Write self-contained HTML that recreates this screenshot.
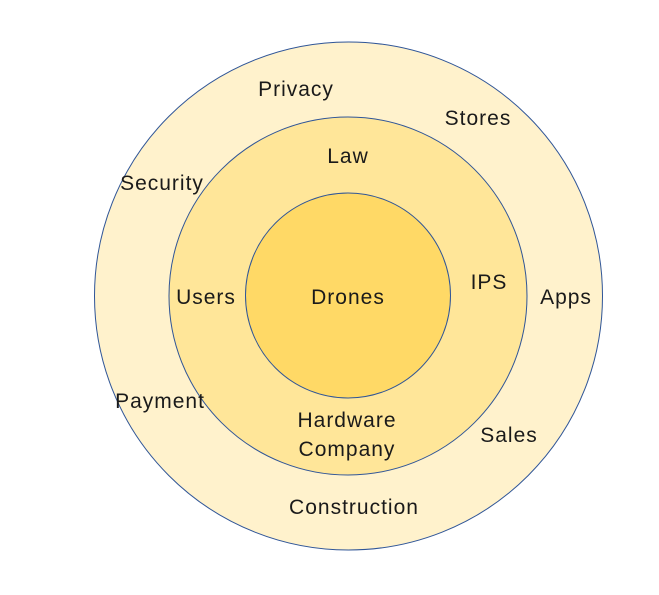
<!DOCTYPE html>
<html><head><meta charset="utf-8"><style>
html,body{margin:0;padding:0;background:#fff;}
svg text{font-family:"Liberation Sans","Noto Sans CJK SC",sans-serif;font-size:21px;letter-spacing:1px;fill:#1a1a1a;text-anchor:middle;}
</style></head><body>
<svg width="659" height="590" viewBox="0 0 659 590" xmlns="http://www.w3.org/2000/svg">
<circle cx="348.5" cy="296" r="254" fill="#FFF2CC" stroke="#2F5597" stroke-width="1"/>
<circle cx="348" cy="296" r="179" fill="#FFE699" stroke="#2F5597" stroke-width="1"/>
<circle cx="348" cy="295.5" r="102.5" fill="#FFD966" stroke="#2F5597" stroke-width="1"/>
<text x="296" y="96">Privacy</text>
<text x="478" y="125">Stores</text>
<text x="162" y="190">Security</text>
<text x="348" y="163">Law</text>
<text x="206" y="304">Users</text>
<text x="348" y="304">Drones</text>
<text x="489" y="289">IPS</text>
<text x="566" y="304">Apps</text>
<text x="160" y="408">Payment</text>
<text x="347" y="427">Hardware</text>
<text x="347" y="456">Company</text>
<text x="509" y="442">Sales</text>
<text x="354" y="514">Construction</text>
</svg>
</body></html>
